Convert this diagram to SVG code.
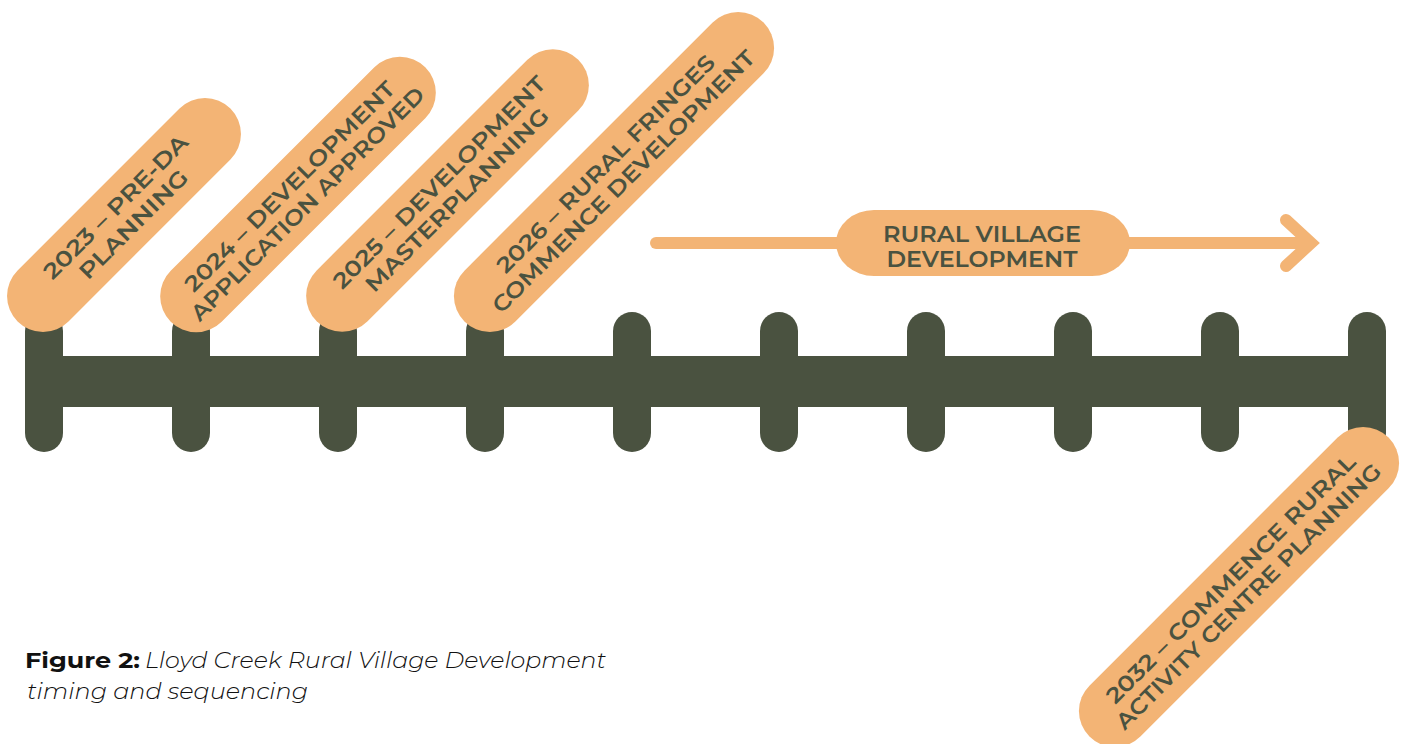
<svg xmlns="http://www.w3.org/2000/svg" width="1408" height="744" viewBox="0 0 1408 744">
<defs>
<style>
.bar{fill:#4A5240}
.tick{stroke:#4A5240;stroke-width:38;stroke-linecap:round;fill:none}
.pill{fill:#F3B475}
.pt{font-family:"Montserrat","Open Sans","Liberation Sans",sans-serif;font-weight:600;font-size:22px;fill:#4A5240;text-anchor:middle}
.arr{stroke:#F3B475;stroke-width:12;stroke-linecap:round;fill:none}
.cap{font-family:"Montserrat","Open Sans","Liberation Sans",sans-serif;font-size:22px;fill:#111111}
</style>
</defs>
<rect width="1408" height="744" fill="#ffffff"/>
<g id="timeline">
<rect class="bar" x="25" y="356" width="1361" height="51"/>
<line class="tick" x1="44" y1="331" x2="44" y2="433"/>
<line class="tick" x1="191" y1="331" x2="191" y2="433"/>
<line class="tick" x1="338" y1="331" x2="338" y2="433"/>
<line class="tick" x1="485" y1="331" x2="485" y2="433"/>
<line class="tick" x1="632" y1="331" x2="632" y2="433"/>
<line class="tick" x1="779" y1="331" x2="779" y2="433"/>
<line class="tick" x1="926" y1="331" x2="926" y2="433"/>
<line class="tick" x1="1073" y1="331" x2="1073" y2="433"/>
<line class="tick" x1="1220" y1="331" x2="1220" y2="433"/>
<line class="tick" x1="1367" y1="331" x2="1367" y2="433"/>
</g>
<g id="connectors">
<line class="arr" x1="656" y1="243" x2="1306" y2="243"/>
<polyline class="arr" points="1286,220 1311,243 1286,266" stroke-linejoin="miter"/>
</g>
<g id="node-2023" transform="translate(124,215) rotate(-45)">
<rect class="pill" x="-150.5" y="-36" width="301" height="72" rx="36"/>
<text class="pt" x="0" y="-4" textLength="194" lengthAdjust="spacingAndGlyphs">2023 – PRE-DA</text>
<text class="pt" x="0" y="21" textLength="144" lengthAdjust="spacingAndGlyphs">PLANNING</text>
</g>
<g id="node-2024" transform="translate(298,194.5) rotate(-45)">
<rect class="pill" x="-180" y="-36" width="360" height="72" rx="36"/>
<text class="pt" x="0" y="-4" textLength="287" lengthAdjust="spacingAndGlyphs">2024 – DEVELOPMENT</text>
<text class="pt" x="0" y="21" textLength="320" lengthAdjust="spacingAndGlyphs">APPLICATION APPROVED</text>
</g>
<g id="node-2025" transform="translate(447.5,190.5) rotate(-45)">
<rect class="pill" x="-185" y="-36" width="370" height="72" rx="36"/>
<text class="pt" x="0" y="-4" textLength="290" lengthAdjust="spacingAndGlyphs">2025 – DEVELOPMENT</text>
<text class="pt" x="0" y="21" textLength="249" lengthAdjust="spacingAndGlyphs">MASTERPLANNING</text>
</g>
<g id="node-2026" transform="translate(614,172) rotate(-45)">
<rect class="pill" x="-211.5" y="-36" width="423" height="72" rx="36"/>
<text class="pt" x="0" y="-4" textLength="298" lengthAdjust="spacingAndGlyphs">2026 – RURAL FRINGES</text>
<text class="pt" x="0" y="21" textLength="361" lengthAdjust="spacingAndGlyphs">COMMENCE DEVELOPMENT</text>
</g>
<g id="node-2032" transform="translate(1239,587) rotate(-45)">
<rect class="pill" x="-211.5" y="-36" width="423" height="72" rx="36"/>
<text class="pt" x="0" y="-4" textLength="342" lengthAdjust="spacingAndGlyphs">2032 – COMMENCE RURAL</text>
<text class="pt" x="0" y="21" textLength="365" lengthAdjust="spacingAndGlyphs">ACTIVITY CENTRE PLANNING</text>
</g>
<g id="node-rural-village">
<rect class="pill" x="836" y="210" width="294" height="66" rx="38" ry="33"/>
<text class="pt" x="982" y="242" textLength="198" lengthAdjust="spacingAndGlyphs">RURAL VILLAGE</text>
<text class="pt" x="982" y="267" textLength="191" lengthAdjust="spacingAndGlyphs">DEVELOPMENT</text>
</g>
<g id="caption">
<text class="cap" x="25" y="668"><tspan font-weight="700" textLength="115" lengthAdjust="spacingAndGlyphs">Figure 2:</tspan></text>
<text class="cap" x="145" y="668" font-style="italic" font-weight="300" textLength="461" lengthAdjust="spacingAndGlyphs">Lloyd Creek Rural Village Development</text>
<text class="cap" x="27" y="699" font-style="italic" font-weight="300" textLength="281" lengthAdjust="spacingAndGlyphs">timing and sequencing</text>
</g>
</svg>
